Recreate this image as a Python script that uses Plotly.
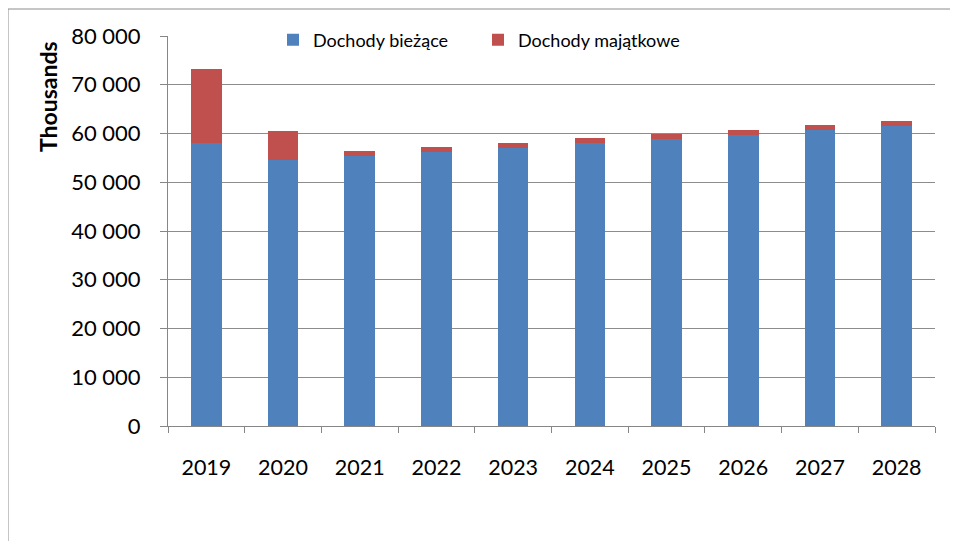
import plotly.graph_objects as go

years = ["2019", "2020", "2021", "2022", "2023", "2024", "2025", "2026", "2027", "2028"]
biezace = [58000, 54600, 55400, 56200, 57000, 58000, 58800, 59700, 60700, 61500]
majatkowe = [15200, 5900, 1000, 1000, 1050, 1100, 1150, 1000, 1000, 1100]
y_ticks = [0, 10000, 20000, 30000, 40000, 50000, 60000, 70000, 80000]
y_labels = ["0", "10 000", "20 000", "30 000", "40 000", "50 000", "60 000", "70 000", "80 000"]

font_family = "Lato, 'Open Sans', sans-serif"

W, H = 958, 541
L, R, T, B = 160, 31, 28, 123
pw = W - L - R
ph = H - T - B

fig = go.Figure()
fig.add_trace(go.Bar(x=years, y=biezace, name="Dochody bieżące", marker_color="#4F81BD",
                     marker_line_width=0))
fig.add_trace(go.Bar(x=years, y=majatkowe, name="Dochody majątkowe", marker_color="#C0504D",
                     marker_line_width=0))

fig.update_layout(
    barmode="stack",
    bargap=0.6,
    width=W, height=H,
    margin=dict(l=L, r=R, t=T, b=B),
    paper_bgcolor="white",
    plot_bgcolor="white",
    font=dict(family=font_family, color="#000000"),
    legend=dict(orientation="h", x=(273 - 168) / pw, y=1 + (426 - 40 - ph) / ph,
                xanchor="left", yanchor="middle",
                font=dict(size=18, family=font_family), bgcolor="rgba(0,0,0,0)",
                traceorder="normal", entrywidth=160),
    showlegend=True,
    shapes=[dict(type="rect", xref="paper", yref="paper", x0=-L / pw, x1=1.2,
                 y0=-0.5, y1=1 + (T - 1) / ph, line=dict(color="#8C8C8C", width=1),
                 fillcolor="rgba(0,0,0,0)", layer="below")],
    annotations=[dict(text="<b>Thousands</b>", xref="paper", yref="paper",
                      x=(48 - 168) / pw, y=(426 - 97) / ph, xanchor="center", yanchor="middle",
                      textangle=-90, showarrow=False,
                      font=dict(size=23, family=font_family, color="#000000"))],
)

fig.update_xaxes(
    type="category",
    tickson="boundaries",
    ticks="outside", ticklen=6, tickcolor="#868686",
    showline=True, linecolor="#868686", linewidth=1,
    showgrid=False,
    tickfont=dict(size=21.5, family=font_family),
    ticklabelstandoff=22,
)
fig.update_yaxes(
    range=[0, 80000],
    tickvals=y_ticks, ticktext=y_labels,
    ticks="outside", ticklen=7, tickcolor="#868686",
    showline=True, linecolor="#868686", linewidth=1,
    showgrid=True, gridcolor="#8C8C8C", gridwidth=1,
    zeroline=False,
    tickfont=dict(size=22, family=font_family),
    ticklabelstandoff=15,
)

fig.write_html("out.html")
